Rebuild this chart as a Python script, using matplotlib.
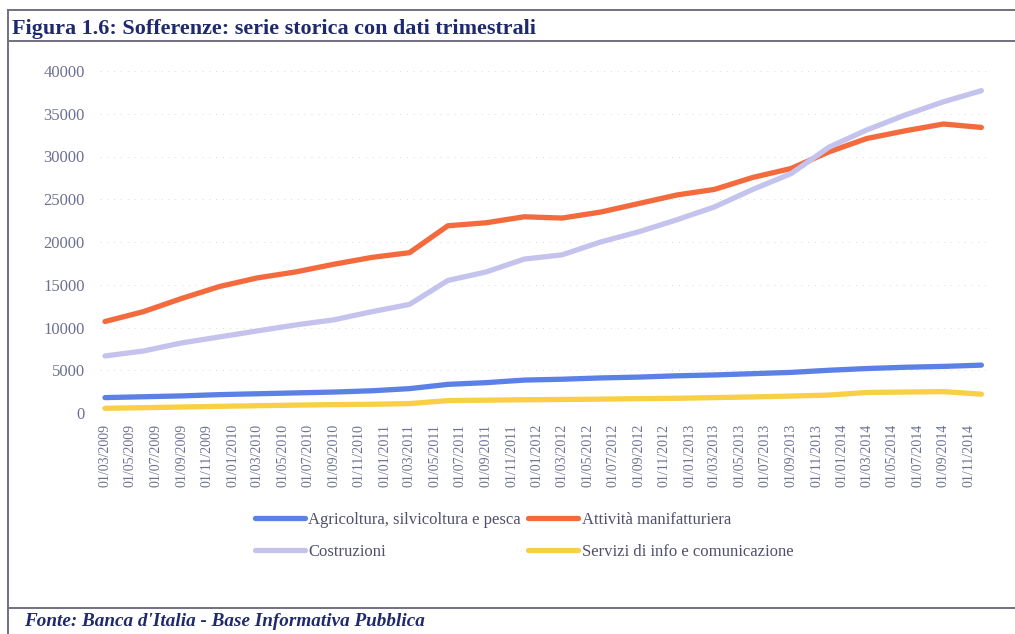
import matplotlib
matplotlib.use("Agg")
import matplotlib.pyplot as plt
import matplotlib.dates as mdates
from matplotlib.lines import Line2D
import pandas as pd

# quarterly observations, March 2009 - December 2014
dates = pd.date_range("2009-03-01", "2014-12-01", freq="3MS")

agricoltura = [1.8, 1.9, 2.0, 2.15, 2.25, 2.35, 2.45, 2.6, 2.85, 3.35, 3.55, 3.85,
               3.95, 4.1, 4.2, 4.35, 4.45, 4.6, 4.75, 5.0, 5.2, 5.35, 5.45, 5.6]
manifattura = [10.7, 11.85, 13.4, 14.8, 15.8, 16.5, 17.4, 18.2, 18.75, 21.9, 22.25, 22.95,
               22.8, 23.5, 24.5, 25.5, 26.15, 27.55, 28.6, 30.55, 32.1, 33.0, 33.8, 33.4]
costruzioni = [6.67, 7.25, 8.2, 8.9, 9.6, 10.3, 10.9, 11.85, 12.7, 15.5, 16.5, 18.0,
               18.5, 20.0, 21.2, 22.6, 24.1, 26.15, 28.0, 31.1, 33.1, 34.85, 36.4, 37.7]
servizi = [0.55, 0.62, 0.7, 0.78, 0.85, 0.92, 0.98, 1.02, 1.1, 1.45, 1.5, 1.55,
           1.58, 1.62, 1.68, 1.72, 1.8, 1.88, 1.98, 2.1, 2.4, 2.45, 2.5, 2.2]

to_units = lambda s: [v * 1000 for v in s]

navy = "#1f2a6e"
label_col = "#6d7090"
serif = ["Liberation Serif", "DejaVu Serif"]

fig = plt.figure(figsize=(10.15, 6.34), dpi=100)
ax = fig.add_axes([0.0985, 1 - 413 / 634, 0.877, (413 - 71) / 634])

lw = 3.8
l1, = ax.plot(dates, to_units(agricoltura), color="#5b80e6", lw=lw, solid_capstyle="round")
l2, = ax.plot(dates, to_units(manifattura), color="#f36a3c", lw=lw, solid_capstyle="round")
l3, = ax.plot(dates, to_units(costruzioni), color="#c4c3ee", lw=lw, solid_capstyle="round")
l4, = ax.plot(dates, to_units(servizi), color="#f9cf45", lw=lw, solid_capstyle="round")

ax.set_ylim(0, 40000)
ax.set_yticks(range(0, 40001, 5000))
ax.set_xlim(pd.Timestamp("2009-02-17"), pd.Timestamp("2014-12-22"))
ax.xaxis.set_major_locator(mdates.MonthLocator(bymonth=[1, 3, 5, 7, 9, 11]))
ax.xaxis.set_major_formatter(mdates.DateFormatter("%d/%m/%Y"))
ax.grid(axis="y", color="#d8d8e0", lw=0.7, ls=(0, (1, 6)))
ax.set_axisbelow(True)
for s in ax.spines.values():
    s.set_visible(False)
ax.tick_params(length=0)
ax.tick_params(axis="y", pad=11)
ax.tick_params(axis="x", pad=8)
for t in ax.get_yticklabels():
    t.set_fontfamily(serif)
    t.set_fontsize(12)
    t.set_color(label_col)
for t in ax.get_xticklabels():
    t.set_fontfamily(serif)
    t.set_fontsize(10)
    t.set_color(label_col)
    t.set_rotation(90)

leg = fig.legend([l1, l3, l2, l4],
                 ["Agricoltura, silvicoltura e pesca", "Costruzioni",
                  "Attività manifatturiera", "Servizi di info e comunicazione"],
                 ncol=2, loc="center left", bbox_to_anchor=(255 / 1015, 1 - 536 / 634),
                 frameon=False, borderpad=0, borderaxespad=0,
                 handlelength=3.0, handletextpad=0.2, columnspacing=0.45,
                 labelspacing=1.0, prop={"family": serif, "size": 12})
for t in leg.get_texts():
    t.set_color("#50506e")

fig.text(12 / 1015, 1 - 29 / 634, "Figura 1.6: Sofferenze: serie storica con dati trimestrali",
         family=serif, weight="bold", size=15.9, color=navy, va="center")
fig.text(24 / 1015, 1 - 622 / 634, "Fonte: Banca d'Italia - Base Informativa Pubblica",
         family=serif, weight="bold", style="italic", size=13.8, color=navy, va="center")

frame_col = "#707080"
fig.add_artist(Line2D([8 / 1015, 1], [1 - 10 / 634] * 2, color=frame_col, lw=1.4))
fig.add_artist(Line2D([8 / 1015, 1], [1 - 41 / 634] * 2, color=frame_col, lw=1.4))
fig.add_artist(Line2D([8 / 1015, 1], [1 - 608 / 634] * 2, color=frame_col, lw=1.4))
fig.add_artist(Line2D([8 / 1015] * 2, [0, 1 - 10 / 634], color=frame_col, lw=1.4))

fig.savefig("out.png", dpi=100)
